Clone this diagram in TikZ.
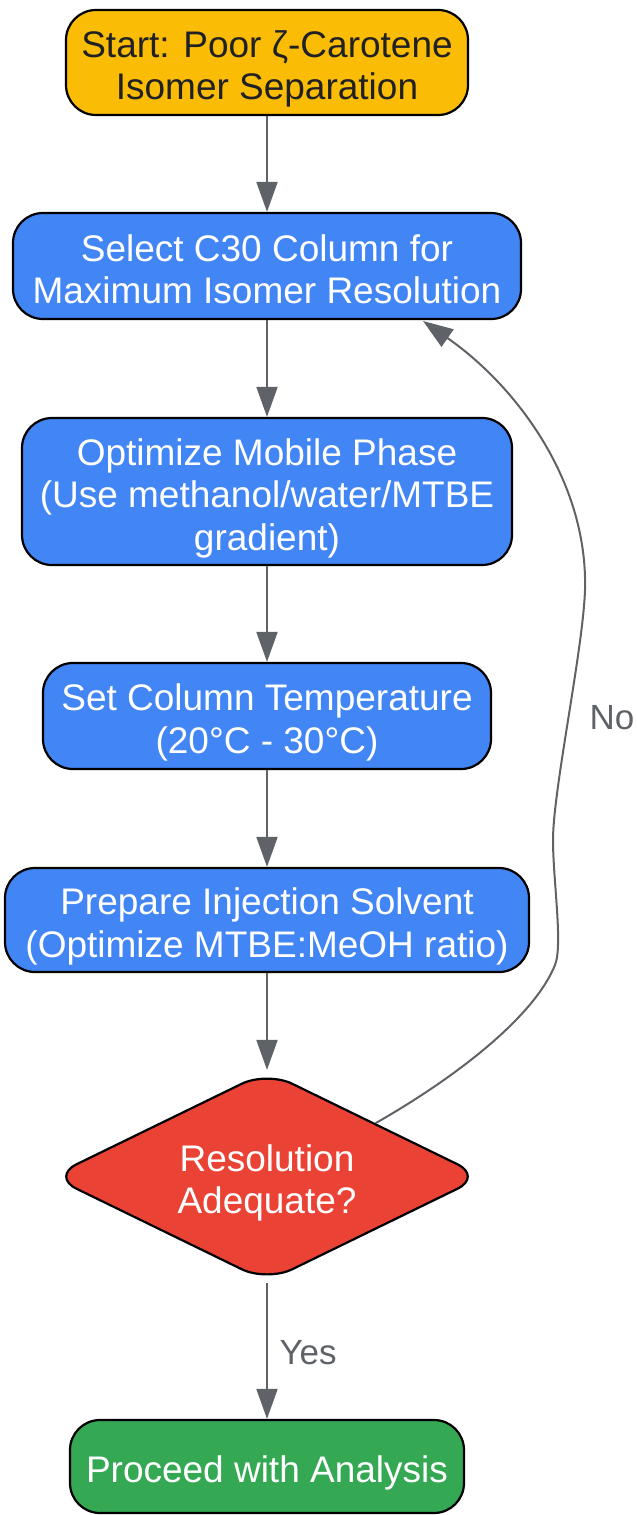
\documentclass[tikz,border=0pt]{standalone}
\usepackage{fontspec}
\setmainfont{Liberation Sans}
\usetikzlibrary{arrows.meta,shapes.geometric}
\definecolor{gyellow}{HTML}{FBBC05}
\definecolor{gblue}{HTML}{4285F4}
\definecolor{gred}{HTML}{EA4335}
\definecolor{ggreen}{HTML}{34A853}
\definecolor{gedge}{HTML}{5F6368}
\definecolor{gtext}{HTML}{202124}
\newcommand\tup[1][40pt]{\rule{0pt}{#1}}
\begin{document}
\begin{tikzpicture}[x=1pt,y=-1pt,
  box/.style={draw=black,line width=2.2pt,rounded corners=30pt,align=center,inner sep=0pt,
    font=\fontsize{37}{42.5}\selectfont,text=white},
  dia/.style={draw=black,line width=2.2pt,shape=diamond,shape aspect=2,rounded corners=28pt,
    align=center,inner sep=0pt,font=\fontsize{37}{42.5}\selectfont,text=white},
  flow/.style={draw=gedge,line width=2pt,-{Triangle[length=30pt,width=21pt]}},
  lab/.style={text=gedge,font=\fontsize{35}{40}\selectfont}]
\useasboundingbox (0,0) rectangle (637,1515);
\node[box,fill=gyellow,text=gtext,minimum width=402pt,minimum height=105pt] (st) at (267,62.5)
  {\tup Start: Poor ζ-Carotene\\Isomer Separation};
\node[box,fill=gblue,minimum width=508pt,minimum height=106pt] (sel) at (267,266)
  {\tup[33pt]Select C30 Column for\\Maximum Isomer Resolution};
\node[box,fill=gblue,minimum width=490pt,minimum height=147pt] (opt) at (267,491.5)
  {\tup Optimize Mobile Phase\\(Use methanol/water/MTBE\\gradient)};
\node[box,fill=gblue,minimum width=448pt,minimum height=106pt] (tmp) at (267,716)
  {\tup Set Column Temperature\\(20°C - 30°C)};
\node[box,fill=gblue,minimum width=524pt,minimum height=104pt] (inj) at (267,920)
  {\tup Prepare Injection Solvent\\(Optimize MTBE:MeOH ratio)};
\node[dia,fill=gred,minimum width=432pt,minimum height=211pt] (d) at (267,1176.5)
  {\tup Resolution\\Adequate?};
\node[box,fill=ggreen,minimum width=394pt,minimum height=93pt] (pr) at (267,1466.5)
  {\tup Proceed with Analysis};
\coordinate (noend) at (423,321);
\draw[flow] (st.south) -- (sel.north);
\draw[flow] (sel.south) -- (opt.north);
\draw[flow] (opt.south) -- (tmp.north);
\draw[flow] (tmp.south) -- (inj.north);
\draw[flow] (inj.south) -- (d.north);
\draw[flow] (d.south) -- (pr.north);
\draw[flow] (d.north east) .. controls (460,1075) and (535,1015) .. (555,965)
  .. controls (563,945) and (553,880) .. (553,840)
  .. controls (553,790) and (583,650) .. (585,590)
  .. controls (588,480) and (515,385) .. (noend);
\node[lab,anchor=west] (yes) at (276,1353) {Yes};
\node[lab,anchor=west] (no) at (586,718) {No};
\end{tikzpicture}
\end{document}
